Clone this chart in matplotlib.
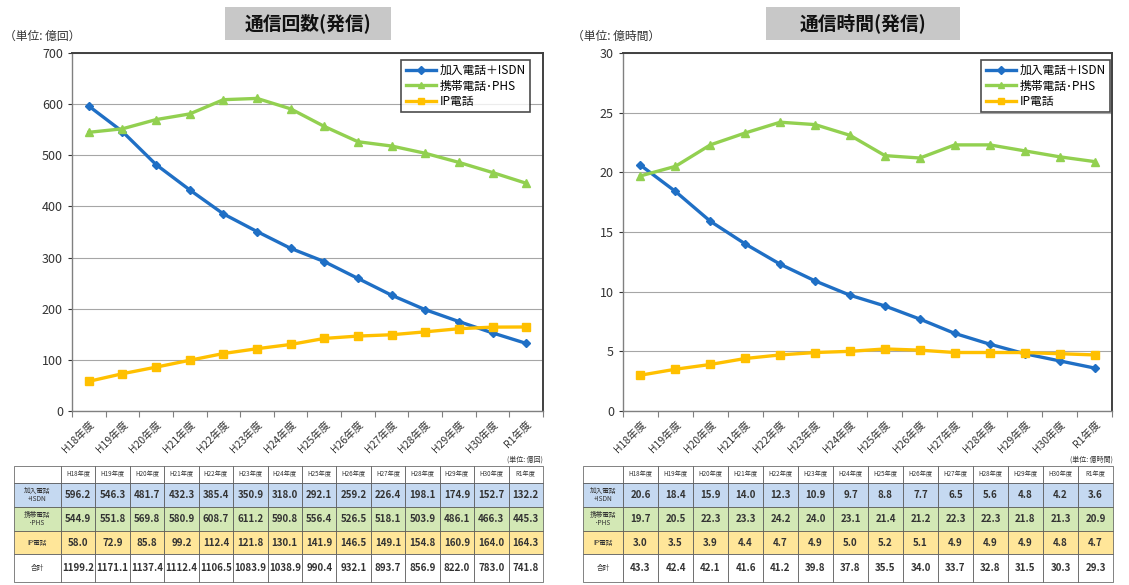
import matplotlib
matplotlib.use("Agg")
import matplotlib.pyplot as plt
from matplotlib.patches import Rectangle

plt.rcParams['font.family'] = ['Noto Sans CJK JP', 'DejaVu Sans']

categories = ["H18年度", "H19年度", "H20年度", "H21年度", "H22年度", "H23年度", "H24年度",
              "H25年度", "H26年度", "H27年度", "H28年度", "H29年度", "H30年度", "R1年度"]
series_names = ["加入電話＋ISDN", "携帯電話･PHS", "IP電話"]
table_row_labels = ["加入電話\n+ISDN", "携帯電話\n･PHS", "IP電話", "合計"]

count_fixed = [596.2, 546.3, 481.7, 432.3, 385.4, 350.9, 318.0, 292.1, 259.2, 226.4, 198.1, 174.9, 152.7, 132.2]
count_mobile = [544.9, 551.8, 569.8, 580.9, 608.7, 611.2, 590.8, 556.4, 526.5, 518.1, 503.9, 486.1, 466.3, 445.3]
count_ip = [58.0, 72.9, 85.8, 99.2, 112.4, 121.8, 130.1, 141.9, 146.5, 149.1, 154.8, 160.9, 164.0, 164.3]
count_total = [1199.2, 1171.1, 1137.4, 1112.4, 1106.5, 1083.9, 1038.9, 990.4, 932.1, 893.7, 856.9, 822.0, 783.0, 741.8]

time_fixed = [20.6, 18.4, 15.9, 14.0, 12.3, 10.9, 9.7, 8.8, 7.7, 6.5, 5.6, 4.8, 4.2, 3.6]
time_mobile = [19.7, 20.5, 22.3, 23.3, 24.2, 24.0, 23.1, 21.4, 21.2, 22.3, 22.3, 21.8, 21.3, 20.9]
time_ip = [3.0, 3.5, 3.9, 4.4, 4.7, 4.9, 5.0, 5.2, 5.1, 4.9, 4.9, 4.9, 4.8, 4.7]
time_total = [43.3, 42.4, 42.1, 41.6, 41.2, 39.8, 37.8, 35.5, 34.0, 33.7, 32.8, 31.5, 30.3, 29.3]

W, H = 1129, 585
fig = plt.figure(figsize=(W / 100, H / 100), dpi=100)
fig.patch.set_facecolor('white')

colors = ['#1F6FC5', '#92D050', '#FFC000']
markers = ['D', '^', 's']
msizes = [4.5, 5.5, 6]
row_colors = ['#C5D9F1', '#D3E8B5', '#FFE699', 'white']


def px_axes(x0, y0, x1, y1):
    return fig.add_axes([x0 / W, 1 - y1 / H, (x1 - x0) / W, (y1 - y0) / H])


def make_chart(box, title, title_box, unit, unit_xy, ymax, ystep, series, legend_box,
               table_box, first_w, table_unit, fmt):
    ax = px_axes(*box)
    n = len(categories)
    x = list(range(n))
    for vals, c, m, ms, name in zip(series, colors, markers, msizes, series_names):
        ax.plot(x, vals, color=c, lw=2.4, marker=m, ms=ms, label=name, zorder=3)
    ax.set_xlim(-0.5, n - 0.5)
    ax.set_ylim(0, ymax)
    ax.set_yticks(range(0, ymax + 1, ystep))
    ax.yaxis.grid(True, color='#A6A6A6', lw=0.8)
    ax.set_axisbelow(True)
    # tick marks at category boundaries, labels at category centers
    ax.set_xticks([i - 0.5 for i in range(n + 1)])
    ax.set_xticklabels([])
    ax.set_xticks(x, minor=True)
    ax.set_xticklabels(categories, minor=True, rotation=45, ha='right', va='top',
                       rotation_mode='anchor', fontsize=7.5, color='#333333')
    ax.tick_params(axis='x', which='minor', length=0, pad=6)
    ax.tick_params(axis='x', which='major', length=4, color='#808080')
    ax.tick_params(axis='y', labelsize=9, length=3, colors='#333333')
    for s in ['top', 'right']:
        ax.spines[s].set_color('#404040')
        ax.spines[s].set_linewidth(1.4)
    for s in ['left', 'bottom']:
        ax.spines[s].set_color('#808080')
        ax.spines[s].set_linewidth(1.0)
    bx0, by0, bx1, by1 = box
    lx_right, ly_top = legend_box
    leg = ax.legend(loc='upper right',
                    bbox_to_anchor=((lx_right - bx0) / (bx1 - bx0), 1 - (ly_top - by0) / (by1 - by0)),
                    fontsize=8.5, frameon=True,
                    fancybox=False, edgecolor='#202020', borderpad=0.35, labelspacing=0.2,
                    handlelength=2.6, handletextpad=0.3, borderaxespad=0.0, markerscale=0.8)
    leg.get_frame().set_linewidth(1.2)

    # title box
    tx0, ty0, tx1, ty1 = title_box
    fig.patches.append(Rectangle((tx0 / W, 1 - ty1 / H), (tx1 - tx0) / W, (ty1 - ty0) / H,
                                 transform=fig.transFigure, facecolor='#C8C8C8', edgecolor='none'))
    fig.text((tx0 + tx1) / 2 / W, 1 - (ty0 + ty1) / 2 / H, title, ha='center', va='center',
             fontsize=13.5, fontweight='bold', color='#111111')
    fig.text(unit_xy[0] / W, 1 - unit_xy[1] / H, unit, ha='left', va='center', fontsize=8.5, color='#333333')

    # table
    lx0, ly0, lx1, ly1 = table_box
    cw = (lx1 - lx0 - first_w) / n
    row_h = [17, 24, 24, 23, 28]
    fig.text(lx1 / W, 1 - (ly0 - 6) / H, table_unit, ha='right', va='center', fontsize=5, color='#333333')
    tab = [series[0], series[1], series[2], series[3]]
    y = ly0
    for r in range(5):
        h = row_h[r]
        for cidx in range(n + 1):
            cx = lx0 if cidx == 0 else lx0 + first_w + (cidx - 1) * cw
            w = first_w if cidx == 0 else cw
            fc = 'white' if r == 0 else row_colors[r - 1]
            fig.patches.append(Rectangle((cx / W, 1 - (y + h) / H), w / W, h / H, transform=fig.transFigure,
                                         facecolor=fc, edgecolor='#505050', lw=0.5))
            weight = 'normal'
            if r == 0 and cidx > 0:
                txt, fs = categories[cidx - 1], 4.5
            elif r > 0 and cidx == 0:
                txt, fs = table_row_labels[r - 1], 4.8
            elif r > 0:
                txt, fs = fmt(tab[r - 1][cidx - 1]), 7
                weight = 'bold'
            else:
                txt, fs = '', 5
            if txt:
                fig.text((cx + w / 2) / W, 1 - (y + h / 2) / H, txt, ha='center', va='center',
                         fontsize=fs, color='#333333', linespacing=1.0, fontweight=weight)
        y += h
    return ax


make_chart((72, 53, 543, 411), "通信回数(発信)", (225, 7, 391, 40), "（単位: 億回）", (4, 36),
           700, 100, [count_fixed, count_mobile, count_ip, count_total], (530, 60),
           (14, 466, 543, 582), 47, "(単位: 億回)", lambda v: f"{v:.1f}")
make_chart((623, 53, 1112, 411), "通信時間(発信)", (766, 7, 960, 40), "（単位: 億時間）", (572, 36),
           30, 5, [time_fixed, time_mobile, time_ip, time_total], (1110, 60),
           (583, 466, 1113, 582), 40, "(単位: 億時間)", lambda v: f"{v:.1f}")

fig.savefig("out.png", dpi=100)
